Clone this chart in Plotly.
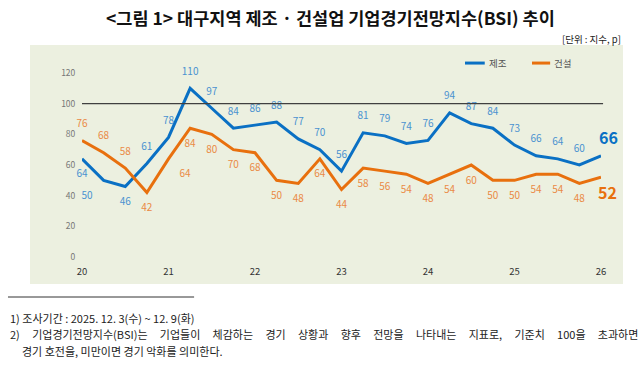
import plotly.graph_objects as go

quarters = [f"{y}.{q}Q" for y in range(20, 27) for q in range(1, 5)][:25]
year_ticks = ["20.1Q", "21.1Q", "22.1Q", "23.1Q", "24.1Q", "25.1Q", "26.1Q"]
year_labels = ["20", "21", "22", "23", "24", "25", "26"]

manufacturing = [64, 50, 46, 61, 78, 110, 97, 84, 86, 88, 77, 70, 56, 81, 79, 74, 76, 94, 87, 84, 73, 66, 64, 60, 66]
construction = [76, 68, 58, 42, 64, 84, 80, 70, 68, 50, 48, 64, 44, 58, 56, 54, 48, 54, 60, 50, 50, 54, 54, 48, 52]

y_ticks = [0, 20, 40, 60, 80, 100, 120]
series_names = ["제조", "건설"]

BLUE = "#0A70C4"
ORANGE = "#E8700E"
BLUE_T = "#4A92D0"
ORANGE_T = "#EA8A45"
BG = "#ECF0E0"
FONT = "Noto Sans CJK KR"

m_pos = ["bottom center", "bottom left", "bottom center"] + ["top center"] * 22
c_pos = ["top center", "top center", "top center", "bottom center", "bottom right"] + ["bottom center"] * 20
m_text = [str(v) for v in manufacturing[:-1]] + [""]
c_text = [str(v) for v in construction[:-1]] + [""]

fig = go.Figure()
fig.add_trace(go.Scatter(
    x=quarters, y=manufacturing, name=series_names[0], mode="lines+markers+text",
    line=dict(color=BLUE, width=3), marker=dict(size=16, color="rgba(0,0,0,0)"),
    text=m_text, textposition=m_pos,
    textfont=dict(color=BLUE_T, size=10, family=FONT), cliponaxis=False,
))
fig.add_trace(go.Scatter(
    x=quarters, y=construction, name=series_names[1], mode="lines+markers+text",
    line=dict(color=ORANGE, width=3), marker=dict(size=16, color="rgba(0,0,0,0)"),
    text=c_text, textposition=c_pos,
    textfont=dict(color=ORANGE_T, size=10, family=FONT), cliponaxis=False,
))

# bold final labels
fig.add_annotation(x=quarters[-1], y=manufacturing[-1], text=f"<b>{manufacturing[-1]}</b>",
                   showarrow=False, xanchor="center", yanchor="middle", xshift=7, yshift=19,
                   font=dict(color=BLUE, size=16, family=FONT))
fig.add_annotation(x=quarters[-1], y=construction[-1], text=f"<b>{construction[-1]}</b>",
                   showarrow=False, xanchor="center", yanchor="middle", xshift=6, yshift=-15,
                   font=dict(color=ORANGE, size=16, family=FONT))

# background box
fig.add_shape(type="rect", xref="paper", yref="paper", x0=-0.1002, x1=1.0424, y0=-0.1467, y1=1.152,
              fillcolor=BG, line=dict(width=0), layer="below")
# 100 reference line
fig.add_shape(type="line", xref="paper", yref="y", x0=0, x1=1.004, y0=100, y1=100,
              line=dict(color="#404040", width=1.2))

# manual legend
for (x0, x1, xt), name, col in zip([(0.738, 0.776, 0.780), (0.867, 0.902, 0.906)], series_names, [BLUE, ORANGE]):
    fig.add_shape(type="line", xref="paper", yref="paper", x0=x0, x1=x1, y0=1.054, y1=1.054,
                  line=dict(color=col, width=3))
    fig.add_annotation(xref="paper", yref="paper", x=xt, y=1.054, text=name, showarrow=False,
                       xanchor="left", yanchor="middle", font=dict(size=9.5, color="#555555", family=FONT))

# title & unit
fig.add_annotation(xref="paper", yref="paper", x=0.478, y=1.299, text="<b>&lt;그림 1&gt; 대구지역 제조 · 건설업 기업경기전망지수(BSI) 추이</b>",
                   showarrow=False, font=dict(size=17.5, color="#111111", family=FONT), xanchor="center", yanchor="middle")
fig.add_annotation(xref="paper", yref="paper", x=1.0424, y=1.187, text="[단위 : 지수, p]",
                   showarrow=False, font=dict(size=9.5, color="#222222", family=FONT), xanchor="right", yanchor="middle")

# footnotes
fig.add_shape(type="line", xref="paper", yref="paper", x0=-0.1426, x1=0.216, y0=-0.2174, y1=-0.2174,
              line=dict(color="#333333", width=1))
sp = "&nbsp;&nbsp;&nbsp;&nbsp;"
line2_words = ["2)", "기업경기전망지수(BSI)는", "기업들이", "체감하는", "경기", "상황과", "향후", "전망을", "나타내는", "지표로,", "기준치", "100을", "초과하면"]
notes = [
    ("1) 조사기간 : 2025. 12. 3(수) ~ 12. 9(화)", -0.1426, -0.3315),
    ((" " + sp).join(line2_words), -0.1426, -0.4185),
    ("경기 호전을, 미만이면 경기 악화를 의미한다.", -0.119, -0.511),
]
for t, x, y in notes:
    fig.add_annotation(xref="paper", yref="paper", x=x, y=y, text=t, showarrow=False,
                       xanchor="left", yanchor="middle", font=dict(size=11, color="#222222", family=FONT))

fig.update_layout(
    width=640, height=367,
    margin=dict(l=82, r=39, t=73, b=110, autoexpand=False),
    paper_bgcolor="white", plot_bgcolor="rgba(0,0,0,0)",
    showlegend=False,
    font=dict(family=FONT),
)
fig.update_xaxes(type="category", categoryorder="array", categoryarray=quarters,
                 range=[0, 24], tickvals=year_ticks, ticktext=year_labels,
                 showgrid=False, zeroline=False, showline=False,
                 ticks="outside", ticklen=6, tickcolor="rgba(0,0,0,0)",
                 tickfont=dict(size=9.5, color="#333333", family=FONT))
fig.update_yaxes(range=[0, 120], tickvals=y_ticks, showgrid=False, zeroline=False, showline=False,
                 ticks="outside", ticklen=4, tickcolor="rgba(0,0,0,0)",
                 tickfont=dict(size=8.5, color="#777777", family=FONT))

fig.write_html("out.html", config={"displayModeBar": False},
               post_script="document.body.style.margin='0';document.body.style.overflow='hidden';")
